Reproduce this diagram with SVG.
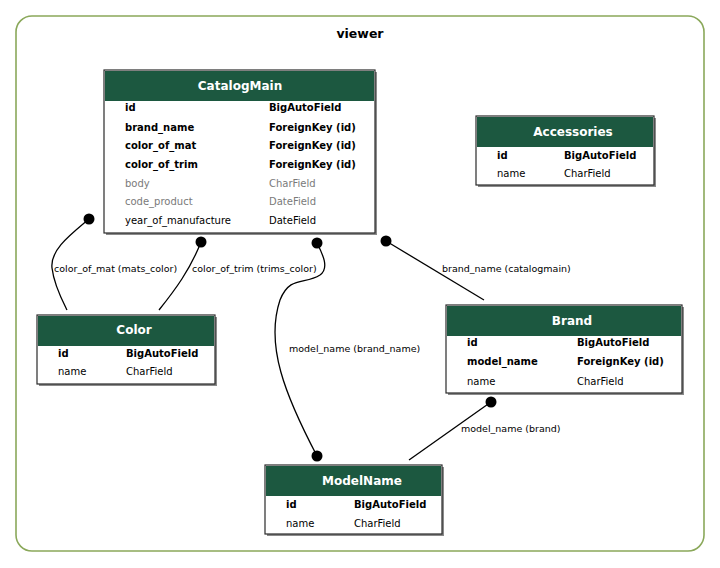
<svg xmlns="http://www.w3.org/2000/svg" width="720" height="568" viewBox="0 0 720 568">
  <style>
    text { font-family: "DejaVu Sans", Verdana, sans-serif; font-size: 10px; fill: #000; }
    .title { font-size: 12.5px; font-weight: bold; text-anchor: middle; }
    .hdr { font-size: 12px; font-weight: bold; fill: #fff; text-anchor: middle; }
    .b { font-weight: bold; }
    .g { fill: #7a7a7a; }
    .shadow { fill: #8a8a8a; }
    .box { fill: #fff; stroke: #2a2a2a; stroke-width: 1.2; }
    .head { fill: #1c5840; }
    .edge { fill: none; stroke: #000; stroke-width: 1.3; }
    .dot { fill: #000; }
    .lbl { font-size: 9.5px; }
  </style>

  <!-- app cluster -->
  <rect x="16" y="16" width="688" height="535" rx="16" ry="16" fill="#fff" stroke="#8aa85a" stroke-width="1.6"/>
  <text class="title" x="360" y="38">viewer</text>

  <!-- relations -->
  <g id="connectors">
    <path class="edge" d="M89,219 C70,235 50,250 52,268 C54,285 62,300 67,310"/>
    <circle class="dot" cx="89" cy="219" r="5.5"/>
    <text class="lbl" x="54" y="272">color_of_mat (mats_color)</text>

    <path class="edge" d="M201,242 C190,270 175,290 159,310"/>
    <circle class="dot" cx="201" cy="242" r="5.5"/>
    <text class="lbl" x="192" y="272">color_of_trim (trims_color)</text>

    <path class="edge" d="M317,243 C322,253 330,268 320,275 C305,285 290,275 280,300 C265,345 285,395 317,456"/>
    <circle class="dot" cx="317" cy="243" r="5.5"/>
    <circle class="dot" cx="317" cy="456" r="5.5"/>
    <text class="lbl" x="289" y="352">model_name (brand_name)</text>

    <path class="edge" d="M386,241 L484,300"/>
    <circle class="dot" cx="386" cy="241" r="5.5"/>
    <text class="lbl" x="442" y="272">brand_name (catalogmain)</text>

    <path class="edge" d="M491,402 L409,460"/>
    <circle class="dot" cx="491" cy="402" r="5.5"/>
    <text class="lbl" x="461" y="432">model_name (brand)</text>
  </g>

  <!-- CatalogMain -->
  <g id="CatalogMain">
    <rect class="shadow" x="106" y="72" width="271" height="163"/>
    <rect class="box" x="104" y="70" width="271" height="163"/>
    <rect class="head" x="105" y="71" width="269" height="30"/>
    <text class="hdr" x="240" y="90">CatalogMain</text>
    <text class="b" x="125" y="111">id</text><text class="b" x="269" y="111">BigAutoField</text>
    <text class="b" x="125" y="131">brand_name</text><text class="b" x="269" y="131">ForeignKey (id)</text>
    <text class="b" x="125" y="149">color_of_mat</text><text class="b" x="269" y="149">ForeignKey (id)</text>
    <text class="b" x="125" y="168">color_of_trim</text><text class="b" x="269" y="168">ForeignKey (id)</text>
    <text class="g" x="125" y="187">body</text><text class="g" x="269" y="187">CharField</text>
    <text class="g" x="125" y="205">code_product</text><text class="g" x="269" y="205">DateField</text>
    <text x="125" y="224">year_of_manufacture</text><text x="269" y="224">DateField</text>
  </g>

  <!-- Accessories -->
  <g id="Accessories">
    <rect class="shadow" x="478" y="118" width="178" height="69"/>
    <rect class="box" x="476" y="116" width="178" height="69"/>
    <rect class="head" x="477" y="117" width="176" height="30"/>
    <text class="hdr" x="573" y="136">Accessories</text>
    <text class="b" x="497" y="159">id</text><text class="b" x="564" y="159">BigAutoField</text>
    <text x="497" y="177">name</text><text x="564" y="177">CharField</text>
  </g>

  <!-- Color -->
  <g id="Color">
    <rect class="shadow" x="39" y="317" width="178" height="69"/>
    <rect class="box" x="37" y="315" width="178" height="69"/>
    <rect class="head" x="38" y="316" width="176" height="30"/>
    <text class="hdr" x="134" y="334">Color</text>
    <text class="b" x="58" y="357">id</text><text class="b" x="126" y="357">BigAutoField</text>
    <text x="58" y="375">name</text><text x="126" y="375">CharField</text>
  </g>

  <!-- Brand -->
  <g id="Brand">
    <rect class="shadow" x="448" y="307" width="236" height="88"/>
    <rect class="box" x="446" y="305" width="236" height="88"/>
    <rect class="head" x="447" y="306" width="234" height="30"/>
    <text class="hdr" x="572" y="325">Brand</text>
    <text class="b" x="467" y="346">id</text><text class="b" x="577" y="346">BigAutoField</text>
    <text class="b" x="467" y="365">model_name</text><text class="b" x="577" y="365">ForeignKey (id)</text>
    <text x="467" y="385">name</text><text x="577" y="385">CharField</text>
  </g>

  <!-- ModelName -->
  <g id="ModelName">
    <rect class="shadow" x="267" y="467" width="177" height="69"/>
    <rect class="box" x="265" y="465" width="177" height="69"/>
    <rect class="head" x="266" y="466" width="175" height="30"/>
    <text class="hdr" x="362" y="485">ModelName</text>
    <text class="b" x="286" y="508">id</text><text class="b" x="354" y="508">BigAutoField</text>
    <text x="286" y="527">name</text><text x="354" y="527">CharField</text>
  </g>
</svg>
